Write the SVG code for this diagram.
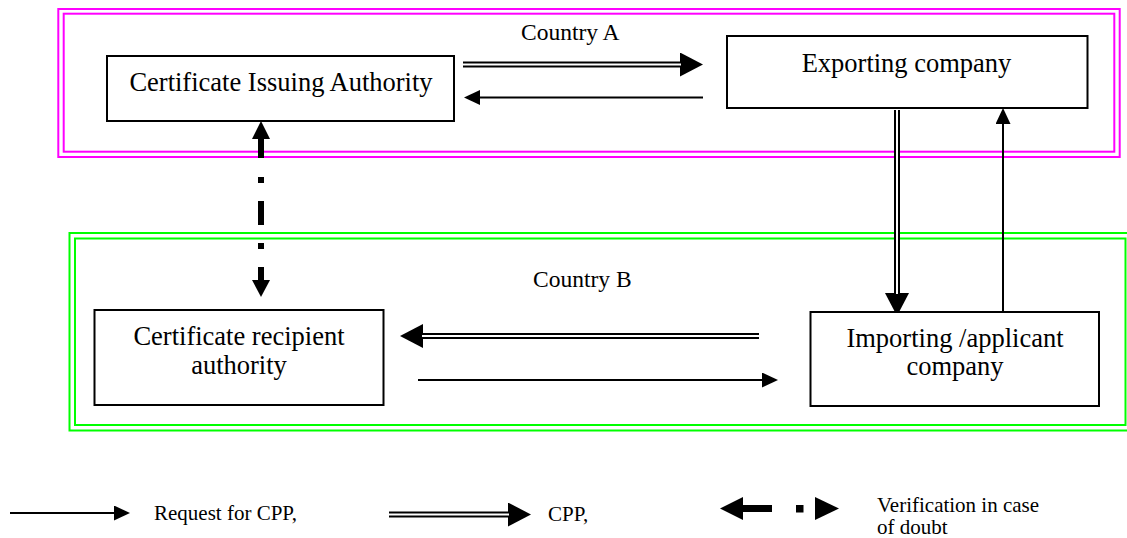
<svg xmlns="http://www.w3.org/2000/svg" width="1127" height="538" viewBox="0 0 1127 538">
<style>
  .frame { fill: none; stroke-width: 2; }
  .mag { stroke: #FF00FF; }
  .grn { stroke: #00FF00; }
  .box { fill: #FFFFFF; stroke: #000000; stroke-width: 2; }
  .lbl { font-family: "Liberation Serif", "Times New Roman", serif; font-size: 26.5px; fill: #000000; text-anchor: middle; }
  .cty { font-family: "Liberation Serif", "Times New Roman", serif; font-size: 23.5px; fill: #000000; }
  .leg { font-family: "Liberation Serif", "Times New Roman", serif; font-size: 21px; fill: #000000; }
  .single { fill: none; stroke: #000000; stroke-width: 2; }
  .dblOut { fill: none; stroke: #000000; stroke-width: 6; }
  .dblIn { fill: none; stroke: #FFFFFF; stroke-width: 2; }
  .head { fill: #000000; }
</style>
<defs>
  <marker id="big" markerUnits="userSpaceOnUse" markerWidth="23" markerHeight="24" refX="0" refY="12" orient="auto" viewBox="0 0 23 24">
    <path d="M0,0 L23,12 L0,24 Z" fill="#000000"/>
  </marker>
  <marker id="small" markerUnits="userSpaceOnUse" markerWidth="16" markerHeight="15" refX="0" refY="7.5" orient="auto" viewBox="0 0 16 15">
    <path d="M0,0 L16,7.5 L0,15 Z" fill="#000000"/>
  </marker>
</defs>

<g id="country-a-frame">
  <rect class="frame mag" x="58.3" y="9" width="1061.4" height="148"/>
  <rect class="frame mag" x="63.7" y="13.7" width="1050.6" height="138"/>
  <text class="cty" x="521" y="40">Country A</text>
</g>

<g id="country-b-frame">
  <rect class="frame grn" x="69.5" y="233" width="1070" height="197.5"/>
  <rect class="frame grn" x="75" y="238.5" width="1050.5" height="186.5"/>
  <text class="cty" x="533" y="287">Country B</text>
</g>

<g id="connectors">
  <!-- CPP: issuing authority -> exporting company -->
  <path class="dblOut" d="M463,64.5 H680" marker-end="url(#big)"/>
  <path class="dblIn" d="M463,64.5 H681"/>
  <!-- Request: exporting -> issuing authority -->
  <path class="single" d="M703,97.5 H480" marker-end="url(#small)"/>
  <!-- CPP: exporting -> importing -->
  <path class="dblOut" d="M897,110 V293" marker-end="url(#big)"/>
  <path class="dblIn" d="M897,110 V294"/>
  <!-- Request: importing -> exporting -->
  <path class="single" d="M1003,313 V124" marker-end="url(#small)"/>
  <!-- CPP: importing -> recipient authority -->
  <path class="dblOut" d="M759,336 H423" marker-end="url(#big)"/>
  <path class="dblIn" d="M759,336 H422"/>
  <!-- Request: recipient authority -> importing -->
  <path class="single" d="M418,380 H762" marker-end="url(#small)"/>
  <!-- Verification in case of doubt -->
  <path d="M261,139 V280" fill="none" stroke="#000000" stroke-width="6" stroke-dasharray="19 19 6 18 24 18 6 18 13"/>
  <polygon class="head" points="261,121 270,139 252,139"/>
  <polygon class="head" points="252,280 270,280 261,297"/>
</g>

<g id="certificate-issuing-authority">
  <rect class="box" x="107" y="56" width="347" height="65"/>
  <text class="lbl" x="281" y="91">Certificate Issuing Authority</text>
</g>

<g id="exporting-company">
  <rect class="box" x="727" y="36" width="360.5" height="72"/>
  <text class="lbl" x="906.5" y="72">Exporting company</text>
</g>

<g id="certificate-recipient-authority">
  <rect class="box" x="94.5" y="310" width="289" height="95"/>
  <text class="lbl" x="239" y="345">Certificate recipient</text>
  <text class="lbl" x="239" y="374">authority</text>
</g>

<g id="importing-applicant-company">
  <rect class="box" x="810.5" y="312" width="288.5" height="94"/>
  <text class="lbl" x="955" y="347">Importing /applicant</text>
  <text class="lbl" x="955" y="375">company</text>
</g>

<g id="legend">
  <path class="single" d="M10,513 H114" marker-end="url(#small)"/>
  <text class="leg" x="154" y="520">Request for CPP,</text>
  <path class="dblOut" d="M389,514.5 H508" marker-end="url(#big)"/>
  <path class="dblIn" d="M389,514.5 H509"/>
  <text class="leg" x="548" y="521">CPP,</text>
  <polygon class="head" points="720,508.5 743,497 743,520"/>
  <rect x="742" y="505" width="30" height="7" fill="#000000"/>
  <rect x="796" y="505" width="7.5" height="7.5" fill="#000000"/>
  <polygon class="head" points="815,497 839,508.5 815,520"/>
  <text class="leg" x="877" y="512">Verification in case</text>
  <text class="leg" x="877" y="534">of doubt</text>
</g>
</svg>
